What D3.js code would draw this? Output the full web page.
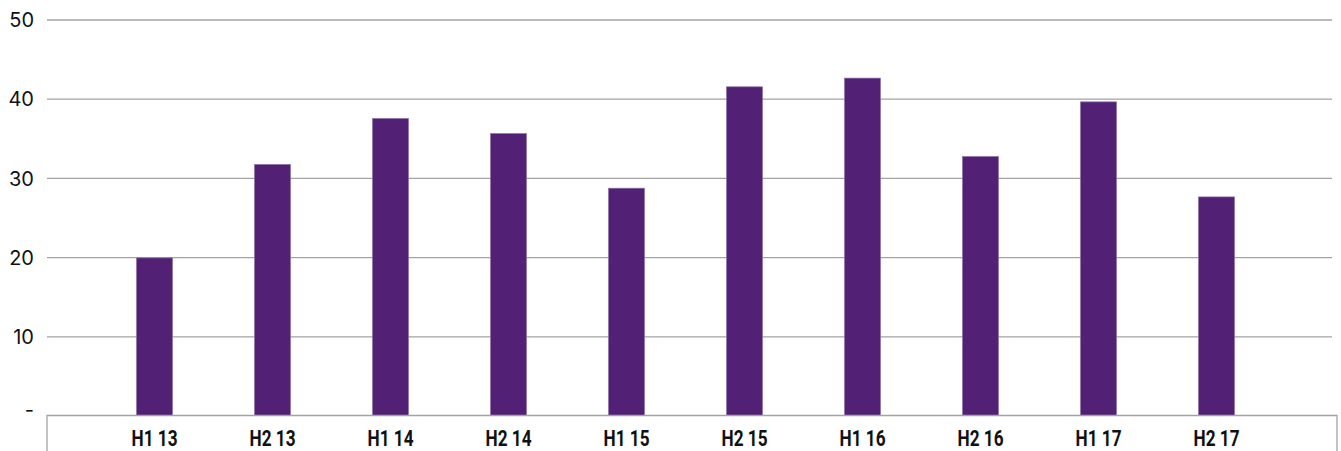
<!DOCTYPE html>
<html>
<head>
<meta charset="utf-8">
<script src="https://cdn.jsdelivr.net/npm/d3@7"></script>
<style>
  html, body { margin: 0; padding: 0; background: #fff; }
  svg { display: block; }
</style>
</head>
<body>
<svg id="chart" width="1341" height="451"></svg>
<script>
// Half-year periods and their values
const periods = ["H1 13", "H2 13", "H1 14", "H2 14", "H1 15", "H2 15", "H1 16", "H2 16", "H1 17", "H2 17"];
const values = [19.9, 31.7, 37.5, 35.6, 28.7, 41.5, 42.6, 32.7, 39.6, 27.6];
const yTicks = [0, 10, 20, 30, 40, 50];

const svg = d3.select("#chart");

const plotLeft = 47, plotRight = 1332, axisRightEdge = 1337;
const y = d3.scaleLinear().domain([0, 50]).range([415.5, 19.5]);
const x = d3.scaleBand().domain(periods).range([95.5, 1275.5]).padding(0);
const barW = x.bandwidth() * 0.305;

// Horizontal gridlines with value labels
const yAxis = d3.axisLeft(y)
  .tickValues(yTicks)
  .tickSize(plotRight - plotLeft)
  .tickPadding(13)
  .tickFormat(d => d === 0 ? "-" : d3.format("d")(d));

const gy = svg.append("g")
  .attr("transform", `translate(${plotRight},0)`)
  .call(yAxis);
gy.select(".domain").remove();
gy.selectAll(".tick line")
  .attr("stroke", "#a3a3a3")
  .attr("stroke-width", 1.3)
  .attr("opacity", d => d === 0 ? 0 : 1);
gy.selectAll(".tick text")
  .attr("fill", "#111")
  .style("font-family", "Inter, 'Noto Sans', sans-serif")
  .style("font-size", "20px")
  .attr("dy", d => d === 0 ? "0.05em" : "0.36em");

// Bars
svg.append("g")
  .selectAll("rect")
  .data(periods)
  .join("rect")
  .attr("x", (d) => x(d) + x.bandwidth() / 2 - barW / 2)
  .attr("width", barW)
  .attr("y", (d, i) => y(values[i]))
  .attr("height", (d, i) => y(0) - y(values[i]))
  .attr("fill", "#522176")
  .attr("stroke", "#8c72a6")
  .attr("stroke-width", 0.7);

// Category axis frame
svg.append("path")
  .attr("d", `M${plotLeft},451 V${y(0)} H${axisRightEdge} V451`)
  .attr("fill", "none")
  .attr("stroke", "#a3a3a3")
  .attr("stroke-width", 1.3);

// Category labels (condensed horizontally)
const xAxis = d3.axisBottom(x).tickSize(0).tickPadding(0);
const gx = svg.append("g")
  .attr("transform", `translate(0,${y(0)})`)
  .call(xAxis);
gx.select(".domain").remove();
gx.selectAll(".tick text")
  .attr("y", 31)
  .attr("dy", 0)
  .attr("transform", "scale(0.8,1)")
  .attr("fill", "#111")
  .style("font-family", "Roboto, 'Liberation Sans', sans-serif")
  .style("font-weight", "700")
  .style("font-size", "21.5px");
</script>
</body>
</html>
